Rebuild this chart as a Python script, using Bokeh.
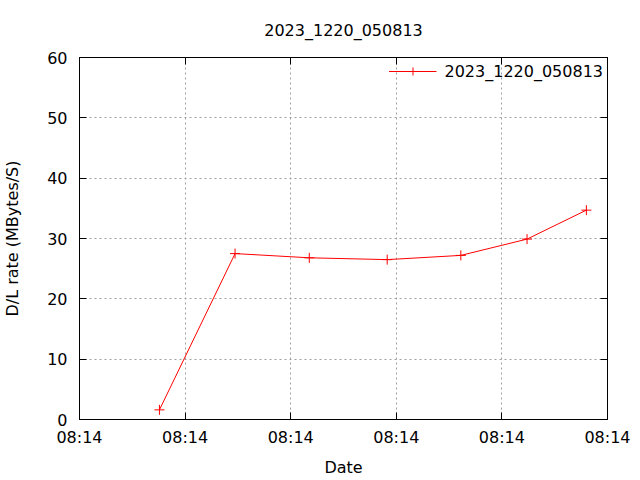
from bokeh.plotting import figure
from bokeh.models import FixedTicker, LinearAxis, Range1d, Legend, LegendItem
from bokeh.embed import file_html
from bokeh.resources import INLINE

title_text = "2023_1220_050813"
series_name = "2023_1220_050813"
x_seconds = [7.57, 14.73, 21.76, 29.14, 36.11, 42.38, 48.0]
rate = [1.6, 27.5, 26.8, 26.5, 27.2, 29.9, 34.7]
x_ticks = [0, 10, 20, 30, 40, 50]
x_tick_labels = ["08:14", "08:14", "08:14", "08:14", "08:14", "08:14"]
y_ticks = [0, 10, 20, 30, 40, 50, 60]

FONT = "DejaVu Sans"
FS = "16px"

p = figure(width=640, height=480, output_backend="svg", toolbar_location=None,
           x_range=Range1d(0, 50), y_range=Range1d(0, 60),
           min_border_left=79, min_border_right=33, min_border_top=57, min_border_bottom=61)
p.title.text = title_text
p.title.align = "center"
p.title.text_font = FONT
p.title.text_font_size = FS
p.title.text_font_style = "normal"
p.title.text_color = "black"
p.title.offset = 0
p.title.standoff = 36

p.outline_line_color = "black"
p.outline_line_width = 1
p.background_fill_color = "white"
p.border_fill_color = "white"

def style_axis(ax, labels=True):
    ax.axis_line_color = "black"
    ax.major_tick_in = 7
    ax.major_tick_out = 0
    ax.major_tick_line_color = "black"
    ax.minor_tick_line_color = None
    ax.major_label_text_font = FONT
    ax.major_label_text_font_size = FS
    ax.major_label_text_color = "black"
    ax.axis_label_text_font = FONT
    ax.axis_label_text_font_size = FS
    ax.axis_label_text_font_style = "normal"
    ax.axis_label_text_color = "black"
    if not labels:
        ax.major_label_text_font_size = "0px"
        ax.major_label_text_color = None

xa = p.xaxis[0]
xa.ticker = FixedTicker(ticks=x_ticks)
xa.major_label_overrides = {t: l for t, l in zip(x_ticks, x_tick_labels)}
xa.axis_label = "Date"
xa.major_label_standoff = 8
xa.axis_label_standoff = 8
style_axis(xa)

ya = p.yaxis[0]
ya.ticker = FixedTicker(ticks=y_ticks)
ya.axis_label = "D/L rate (MBytes/S)"
ya.major_label_standoff = 12
ya.axis_label_standoff = 22
style_axis(ya)

top = LinearAxis(ticker=FixedTicker(ticks=x_ticks))
style_axis(top, labels=False)
p.add_layout(top, "above")
right = LinearAxis(ticker=FixedTicker(ticks=y_ticks))
style_axis(right, labels=False)
p.add_layout(right, "right")

for g in (p.xgrid[0], p.ygrid[0]):
    g.grid_line_color = "#a0a0a0"
    g.grid_line_dash = "2 3"
    g.grid_line_width = 1
p.xgrid[0].ticker = FixedTicker(ticks=x_ticks)
p.ygrid[0].ticker = FixedTicker(ticks=y_ticks)

ln = p.line(x_seconds, rate, line_color="red", line_width=1)
mk = p.scatter(x_seconds, rate, marker="cross", size=10, line_color="red", line_width=1)

legend = Legend(items=[LegendItem(label=series_name, renderers=[ln, mk])],
                location="top_right")
legend.border_line_color = None
legend.background_fill_alpha = 0
legend.label_text_font = FONT
legend.label_text_font_size = FS
legend.label_text_color = "black"
legend.glyph_width = 48
legend.label_standoff = 8
legend.margin = 4
legend.padding = 2
p.add_layout(legend)

open("out.html", "w").write(file_html(p, INLINE))
